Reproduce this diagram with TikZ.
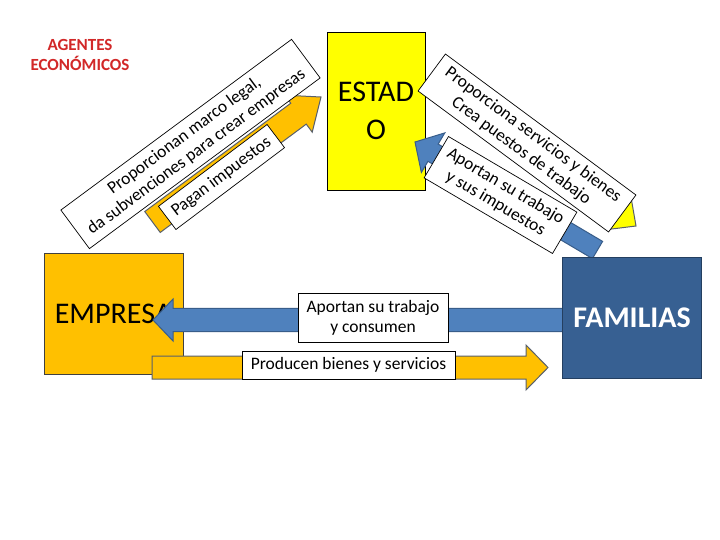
\documentclass[tikz,border=0pt]{standalone}
\usepackage{fontspec}
\setmainfont{Carlito}
\usetikzlibrary{calc}
\definecolor{estadoY}{RGB}{255,255,0}
\definecolor{empO}{RGB}{255,192,0}
\definecolor{famB}{RGB}{55,96,146}
\definecolor{famBorder}{RGB}{36,63,96}
\definecolor{arrB}{RGB}{79,129,189}
\definecolor{arrBline}{RGB}{56,93,138}
\definecolor{arrOline}{RGB}{88,96,108}
\definecolor{titleR}{RGB}{210,40,40}
\newcommand{\blockarrow}[7]{%
  \coordinate (#7) at ($(#3)!#6!(#2)$);
  \draw[#1] ($(#2)!#4!90:(#3)$) -- ($(#7)!#4!90:(#3)$) -- ($(#7)!#5!90:(#3)$) -- (#3)
     -- ($(#7)!#5!-90:(#3)$) -- ($(#7)!#4!-90:(#3)$) -- ($(#2)!#4!-90:(#3)$) -- cycle;
}
\tikzset{
  agent/.style={draw, line width=0.8pt, inner sep=0pt, align=center, font=\fontsize{30}{38.3}\selectfont},
  lab/.style={draw=black, fill=white, line width=0.7pt, inner sep=0pt, align=center, font=\fontsize{17.5}{20}\selectfont},
  bluearr/.style={fill=arrB, draw=arrBline, line width=1pt},
  orangearr/.style={fill=empO, draw=arrOline, line width=1pt},
  yellowarr/.style={fill=estadoY, draw=arrOline, line width=1pt},
}
\begin{document}
\begin{tikzpicture}[x=1pt,y=-1pt]
\useasboundingbox[fill=white] (0,0) rectangle (720,540);
\node[font=\bfseries\fontsize{17}{20}\selectfont, text=titleR, align=center, inner sep=0pt] (title) at (80,55) {AGENTES\\ECONÓMICOS};
% agents
\node[agent, fill=estadoY, draw=black, minimum width=98pt, minimum height=158pt] (estado) at (376,111) {ESTAD\\O};
\node[agent, fill=empO, draw=black!75, minimum width=139pt, minimum height=121pt] (empresa) at (113.5,313.5) {EMPRESA};
% connectors (block arrows)
\coordinate (ohTail) at (152,367.5);
\coordinate (ohTip) at (548,367.5);
\coordinate (bhTail) at (566,320);
\coordinate (bhTip) at (153,320);
\coordinate (odTail) at (152.5,222);
\coordinate (odTip) at (321,97);
\coordinate (bdTail) at (597.5,250);
\coordinate (bdTip) at (415,142);
\coordinate (ydTail) at (450,88);
\coordinate (ydTip) at (636,226);
\blockarrow{yellowarr}{ydTail}{ydTip}{10pt}{20pt}{21pt}{ydBase}
\blockarrow{bluearr}{bdTail}{bdTip}{10pt}{23pt}{21pt}{bdBase}
\blockarrow{orangearr}{odTail}{odTip}{13pt}{23pt}{28pt}{odBase}
\blockarrow{bluearr}{bhTail}{bhTip}{11.7pt}{21pt}{20pt}{bhBase}
\blockarrow{orangearr}{ohTail}{ohTip}{11.5pt}{22.5pt}{22pt}{ohBase}
% labels
\node[lab, minimum width=150pt, minimum height=49pt] (aportanH) at (373,317.5) {Aportan su trabajo\\y consumen};
\node[lab, minimum width=213pt, minimum height=28pt] (producen) at (348.5,365) {Producen bienes y servicios};
\node[lab, rotate=36.5, minimum width=287pt, minimum height=48pt] (propLeft) at (190.5,144) {Proporcionan marco legal,\\da subvenciones para crear empresas};
\node[lab, rotate=37, minimum width=136pt, minimum height=29pt] (pagan) at (221.5,177) {Pagan impuestos};
\node[lab, rotate=-36.5, minimum width=237pt, minimum height=46pt] (propRight) at (527,143) {Proporciona servicios y bienes\\Crea puestos de trabajo};
\node[lab, rotate=-30.5, minimum width=149pt, minimum height=48pt] (aportanR) at (500.5,195) {Aportan su trabajo\\y sus impuestos};
% familias on top
\node[agent, fill=famB, draw=famBorder, text=white, font=\bfseries\fontsize{30}{36}\selectfont, minimum width=139pt, minimum height=121pt] (familias) at (632,318) {FAMILIAS};
\end{tikzpicture}
\end{document}
